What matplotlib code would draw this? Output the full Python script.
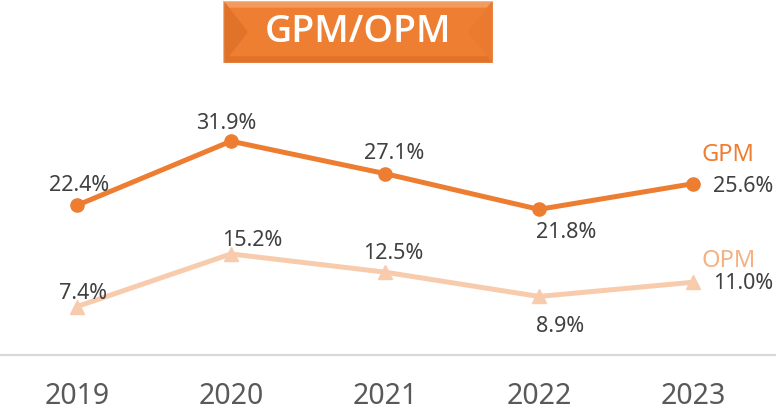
import matplotlib

matplotlib.use("Agg")
import matplotlib.pyplot as plt
from matplotlib.patches import Polygon, Rectangle

plt.rcParams["font.family"] = ["Noto Sans", "DejaVu Sans"]

years = [2019, 2020, 2021, 2022, 2023]
gpm = [22.4, 31.9, 27.1, 21.8, 25.6]
opm = [7.4, 15.2, 12.5, 8.9, 11.0]

# label offsets in pixels (dx, dy) from each point
gpm_offsets = [(2, 21), (-5, 19), (9, 21), (27, -22), (20, -2)]
opm_offsets = [(6, 14), (21, 14), (8, 20), (21, -29), (20, 0)]

GPM_COLOR = "#ED7D31"
OPM_COLOR = "#F8CBAD"
OPM_TEXT = "#F4B183"
LABEL_COLOR = "#404040"

W, H = 776, 414
fig = plt.figure(figsize=(W / 100, H / 100), dpi=100)

# plot area: bottom line at y=355.5 px, top at 100 px
ax = fig.add_axes([0, (H - 355.5) / H, 1, 255.5 / H])
ax.set_xlim(2018.5, 2023.54)
ax.set_ylim(0.3, 38.15)

ax.plot(years, gpm, color=GPM_COLOR, lw=3.6, marker="o", ms=9.5,
        solid_capstyle="round", zorder=3)
ax.plot(years, opm, color=OPM_COLOR, lw=3.6, marker="^", ms=10.5,
        solid_capstyle="round", zorder=2)

for x, v, (dx, dy) in zip(years, gpm, gpm_offsets):
    ha = "left" if x == years[-1] else "center"
    ax.annotate(f"{v:.1f}%", (x, v), xytext=(dx, dy), textcoords="offset pixels",
                ha=ha, va="center", fontsize=15.5, color=LABEL_COLOR)
for x, v, (dx, dy) in zip(years, opm, opm_offsets):
    ha = "left" if x == years[-1] else "center"
    ax.annotate(f"{v:.1f}%", (x, v), xytext=(dx, dy), textcoords="offset pixels",
                ha=ha, va="center", fontsize=15.5, color=LABEL_COLOR)

# series names next to the last points
ax.annotate("GPM", (years[-1], gpm[-1]), xytext=(35, 30), textcoords="offset pixels",
            ha="center", va="center", fontsize=17, color=GPM_COLOR, fontweight="medium")
ax.annotate("OPM", (years[-1], opm[-1]), xytext=(36, 22), textcoords="offset pixels",
            ha="center", va="center", fontsize=17, color=OPM_TEXT, fontweight="medium")

for side in ["top", "left", "right"]:
    ax.spines[side].set_visible(False)
ax.spines["bottom"].set_color("#D9D9D9")
ax.spines["bottom"].set_linewidth(1.6)
ax.set_yticks([])
ax.set_xticks(years)
ax.set_xticklabels([str(y) for y in years], fontsize=20.5, color="#595959")
ax.tick_params(axis="x", length=0, pad=19)
ax.patch.set_visible(False)

# bevelled orange title box
bx0, bx1, by0, by1 = 223, 493, 2, 64
tax = fig.add_axes([bx0 / W, (H - by1) / H, (bx1 - bx0) / W, (by1 - by0) / H])
tax.set_xlim(0, bx1 - bx0)
tax.set_ylim(0, by1 - by0)
tax.axis("off")
bw, bh, b = bx1 - bx0, by1 - by0, 6
tax.add_patch(Rectangle((0, 0), bw, bh, color="#EE7E32"))
tax.add_patch(Polygon([(0, bh), (bw, bh), (bw - b, bh - b), (b, bh - b)], color="#F39A5C"))
tax.add_patch(Polygon([(0, 0), (bw, 0), (bw - b, b), (b, b)], color="#E27228"))
tax.add_patch(Polygon([(0, 0), (0, bh), (b * 4, bh / 2)], color="#E0722A"))
tax.add_patch(Polygon([(bw, 0), (bw, bh), (bw - b * 4, bh / 2)], color="#EA7A2F"))
tax.add_patch(Rectangle((0, 0), bw, bh, fill=False, ec="#F2B58A", lw=1))
tax.text(bw / 2, bh / 2 + 1, "GPM/OPM", ha="center", va="center",
         fontsize=27, color="white", fontweight="semibold",
         family=["Open Sans", "Noto Sans", "DejaVu Sans"])

fig.savefig("out.png", dpi=100)
